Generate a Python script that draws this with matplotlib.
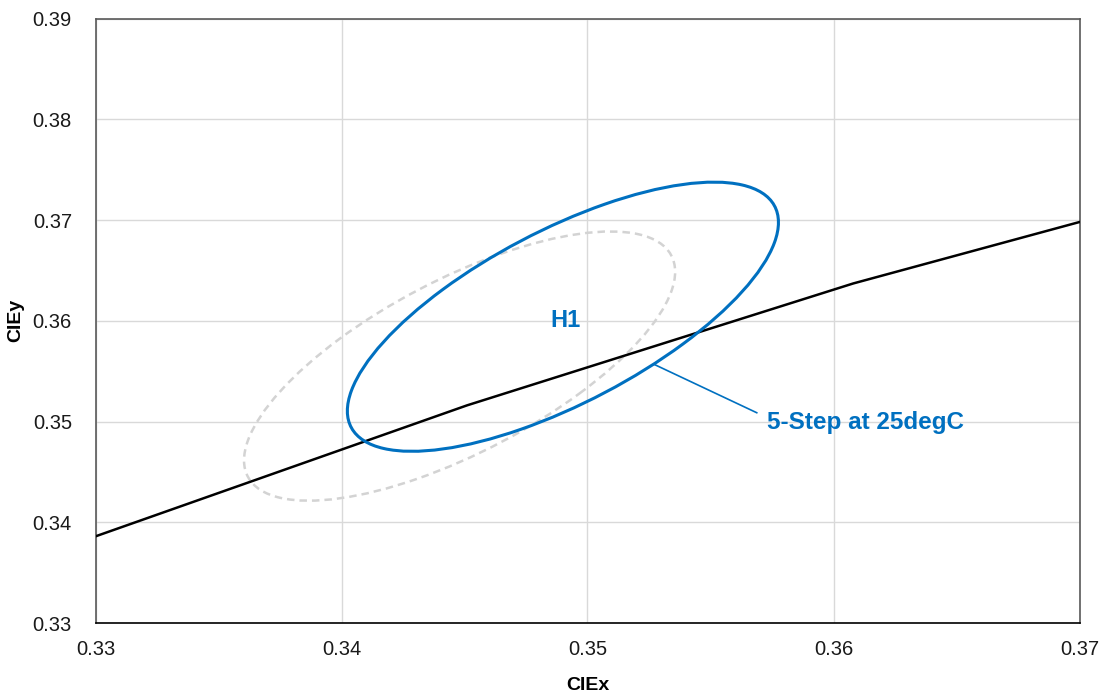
import matplotlib
matplotlib.use("Agg")
import matplotlib.pyplot as plt
from matplotlib.patches import Ellipse

plt.rcParams['font.family'] = ['Liberation Sans', 'DejaVu Sans']

# black body locus (CIE 1931 x, y)
locus_x = [0.330, 0.3451, 0.3608, 0.370]
locus_y = [0.3386, 0.3516, 0.3637, 0.3698]

# ellipses: centre x, centre y, semi-major, semi-minor, angle (deg)
ref_ellipse = [0.3448, 0.3555, 0.01497, 0.00558, 60.9]
h1_ellipse = [0.3490, 0.3604, 0.01497, 0.00558, 60.9]

xticks = [0.33, 0.34, 0.35, 0.36, 0.37]
yticks = [0.33, 0.34, 0.35, 0.36, 0.37, 0.38, 0.39]

blue = '#0070C0'

fig = plt.figure(figsize=(11.04, 6.93), dpi=100)
ax = fig.add_axes([95.5 / 1104, 1 - 623 / 693, 984 / 1104, 604.5 / 693])

ax.plot(locus_x, locus_y, color='black', lw=1.8, zorder=3)

cx, cy, a, b, ang = ref_ellipse
ax.add_patch(Ellipse((cx, cy), 2 * a, 2 * b, angle=ang, fill=False,
                     ec='#d3d3d3', lw=1.8, ls=(0, (3, 2)), zorder=2))
cx, cy, a, b, ang = h1_ellipse
ax.add_patch(Ellipse((cx, cy), 2 * a, 2 * b, angle=ang, fill=False,
                     ec=blue, lw=2.2, zorder=4))

ax.text(0.34909, 0.36007, 'H1', color=blue, fontsize=17, fontweight='bold',
        ha='center', va='center')
ax.plot([0.35270, 0.35688], [0.35568, 0.35087], color=blue, lw=1.2, zorder=4)
ax.text(0.3573, 0.3499, '5-Step at 25degC', color=blue, fontsize=17.5,
        fontweight='bold', ha='left', va='center')

ax.set_xlim(0.33, 0.37)
ax.set_ylim(0.33, 0.39)
ax.set_xticks(xticks)
ax.set_yticks(yticks)
ax.set_xticklabels(['%.2f' % v for v in xticks])
ax.set_yticklabels(['%.2f' % v for v in yticks])
ax.tick_params(length=0, labelsize=14.5, labelcolor='#1a1a1a')
ax.tick_params(axis='y', pad=17)
ax.tick_params(axis='x', pad=12)
ax.grid(True, color='#d9d9d9', lw=1)
ax.set_axisbelow(True)
for side in ['left', 'top', 'right']:
    ax.spines[side].set_color('#595959')
ax.spines['bottom'].set_color('black')
for s in ax.spines.values():
    s.set_linewidth(1.2)

ax.set_xlabel('CIEx', fontsize=14, fontweight='bold', labelpad=13)
ax.set_ylabel('CIEy', fontsize=14, fontweight='bold', labelpad=6)

fig.savefig('out.png', dpi=100)
